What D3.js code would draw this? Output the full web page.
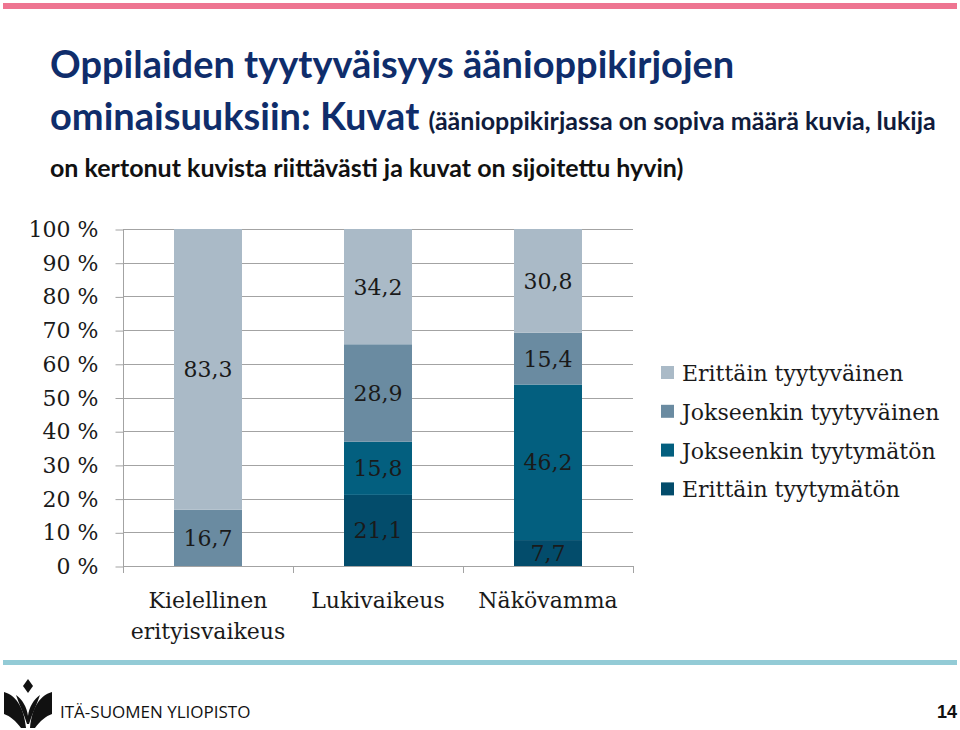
<!DOCTYPE html>
<html>
<head>
<meta charset="utf-8">
<script src="https://cdn.jsdelivr.net/npm/d3@7"></script>
<style>
  html, body { margin: 0; padding: 0; background: #ffffff; }
  svg { display: block; }
</style>
</head>
<body>
<svg id="chart" width="960" height="730"></svg>
<script>
// ---------- DATA ----------
const categories = ["Kielellinen erityisvaikeus", "Lukivaikeus", "Näkövamma"];
const categoryLines = [["Kielellinen", "erityisvaikeus"], ["Lukivaikeus"], ["Näkövamma"]];
const seriesNames = ["Erittäin tyytymätön", "Jokseenkin tyytymätön", "Jokseenkin tyytyväinen", "Erittäin tyytyväinen"];
const erittainTyytymaton   = [0, 21.1, 7.7];
const jokseenkinTyytymaton = [0, 15.8, 46.2];
const jokseenkinTyytyvainen = [16.7, 28.9, 15.4];
const erittainTyytyvainen  = [83.3, 34.2, 30.8];
const yTickValues = [0, 10, 20, 30, 40, 50, 60, 70, 80, 90, 100];
const yTickLabels = ["0 %", "10 %", "20 %", "30 %", "40 %", "50 %", "60 %", "70 %", "80 %", "90 %", "100 %"];
const seriesColors = ["#034c6b", "#035f7f", "#6a8ba1", "#aabac7"];

// ---------- SETUP ----------
const svg = d3.select("#chart");
const serifFont = "'DejaVu Serif', serif";

const seriesValues = [erittainTyytymaton, jokseenkinTyytymaton, jokseenkinTyytyvainen, erittainTyytyvainen];
const table = categories.map((c, i) => {
  const row = { category: c };
  seriesNames.forEach((s, j) => { row[s] = seriesValues[j][i]; });
  return row;
});

const plotLeft = 123, plotRight = 633, plotTop = 229, plotBottom = 566;

const x = d3.scaleBand().domain(categories).range([plotLeft, plotRight])
  .paddingInner(0.6).paddingOuter(0.3);
const y = d3.scaleLinear().domain([0, 100]).range([plotBottom, plotTop]);
const color = d3.scaleOrdinal().domain(seriesNames).range(seriesColors);

// ---------- TOP / BOTTOM DECOR ----------
svg.append("rect").attr("x", 3).attr("y", 3).attr("width", 954).attr("height", 6).attr("fill", "#ee7591");
svg.append("rect").attr("x", 3).attr("y", 660).attr("width", 954).attr("height", 5).attr("fill", "#93cbd6");

// ---------- TITLE ----------
const title = svg.append("g");
title.append("text").attr("x", 50).attr("y", 78)
  .attr("font-family", "Lato, sans-serif").attr("font-weight", 700).attr("font-size", 38)
  .attr("fill", "#0f2d6b").text("Oppilaiden tyytyväisyys äänioppikirjojen");
const t2 = title.append("text").attr("x", 50).attr("y", 130)
  .attr("font-family", "Lato, sans-serif").attr("font-weight", 700).attr("fill", "#0f2d6b");
t2.append("tspan").attr("font-size", 38).text("ominaisuuksiin: Kuvat ");
t2.append("tspan").attr("font-size", 25).attr("fill", "#101c3c").text("(äänioppikirjassa on sopiva määrä kuvia, lukija");
title.append("text").attr("x", 50).attr("y", 177)
  .attr("font-family", "Lato, sans-serif").attr("font-weight", 700).attr("font-size", 25)
  .attr("fill", "#111111").text("on kertonut kuvista riittävästi ja kuvat on sijoitettu hyvin)");

// ---------- GRID ----------
const gridColor = "#a3a3a3";
svg.append("g").selectAll("line").data(yTickValues).join("line")
  .attr("x1", plotLeft).attr("x2", plotRight)
  .attr("y1", d => Math.round(y(d)) + 0.5).attr("y2", d => Math.round(y(d)) + 0.5)
  .attr("stroke", gridColor).attr("stroke-width", 1);

// ---------- BARS ----------
const stack = d3.stack().keys(seriesNames).offset(d3.stackOffsetExpand);
const stacked = stack(table);
const fmt = v => d3.format(".1f")(v).replace(".", ",");

const layers = svg.append("g").selectAll("g").data(stacked).join("g")
  .attr("fill", d => color(d.key));
layers.selectAll("rect").data(d => d).join("rect")
  .attr("x", d => x(d.data.category))
  .attr("width", x.bandwidth())
  .attr("y", d => y(d[1] * 100))
  .attr("height", d => y(d[0] * 100) - y(d[1] * 100));

// labels
const labelG = svg.append("g");
stacked.forEach(layer => {
  layer.forEach(d => {
    const v = d.data[layer.key];
    if (v > 0) {
      labelG.append("text")
        .attr("x", x(d.data.category) + x.bandwidth() / 2)
        .attr("y", y((d[0] + d[1]) / 2 * 100))
        .attr("dy", "0.36em")
        .attr("text-anchor", "middle")
        .attr("font-family", serifFont).attr("font-size", 22)
        .attr("fill", "#1a1a1a")
        .text(fmt(v));
    }
  });
});

// ---------- AXES ----------
const yAxis = d3.axisLeft(y).tickValues(yTickValues)
  .tickFormat((d, i) => yTickLabels[i]).tickSize(8).tickPadding(17);
const yG = svg.append("g").attr("transform", `translate(${plotLeft + 0.5},0.5)`).call(yAxis);
yG.select(".domain").attr("stroke", gridColor).attr("d", `M0,${plotTop}V${plotBottom}`);
yG.selectAll(".tick line").attr("stroke", gridColor);
yG.selectAll(".tick text").attr("font-family", serifFont).attr("font-size", 22).attr("fill", "#1a1a1a");
yG.attr("font-family", null).attr("font-size", null);

// x axis baseline & boundary ticks
const xG = svg.append("g");
xG.append("line").attr("x1", plotLeft).attr("x2", plotRight)
  .attr("y1", plotBottom + 0.5).attr("y2", plotBottom + 0.5).attr("stroke", gridColor);
const boundaries = d3.range(categories.length + 1).map(i => plotLeft + i * x.step());
xG.selectAll("line.b").data(boundaries).join("line").attr("class", "b")
  .attr("x1", d => Math.round(d) + 0.5).attr("x2", d => Math.round(d) + 0.5)
  .attr("y1", plotBottom).attr("y2", plotBottom + 7).attr("stroke", gridColor);

// category labels
categories.forEach((c, i) => {
  const t = xG.append("text")
    .attr("x", x(c) + x.bandwidth() / 2).attr("y", 608)
    .attr("text-anchor", "middle")
    .attr("font-family", serifFont).attr("font-size", 22).attr("fill", "#1a1a1a");
  categoryLines[i].forEach((line, k) => {
    t.append("tspan").attr("x", x(c) + x.bandwidth() / 2).attr("dy", k === 0 ? 0 : 31).text(line);
  });
});

// ---------- LEGEND ----------
const legendItems = seriesNames.slice().reverse();
const legend = svg.append("g");
legendItems.forEach((s, i) => {
  const cy = 373 + i * 38.8;
  legend.append("rect").attr("x", 661).attr("y", cy - 7).attr("width", 13).attr("height", 13).attr("fill", color(s));
  legend.append("text").attr("x", 682).attr("y", cy).attr("dy", "0.36em")
    .attr("font-family", serifFont).attr("font-size", 22).attr("fill", "#1a1a1a").text(s);
});

// ---------- FOOTER ----------
const logo = svg.append("g").attr("fill", "#111111");
logo.append("path").attr("d", "M28,679 L33,686 L28,693 L23,686 Z");
logo.append("path").attr("d", "M27,724 C24,714 19,704 16,695 C22,699 27,707 28,716 C29,707 34,699 40,695 C37,704 32,714 29,724 Z");
logo.append("path").attr("d", "M4,692 C15,695 24,706 26,728 L21,728 C16,721 10,716 4,714 Z");
logo.append("path").attr("d", "M52,692 C41,695 32,706 30,728 L35,728 C40,721 46,716 52,714 Z");
svg.append("text").attr("x", 60).attr("y", 718)
  .attr("font-family", "'Open Sans', sans-serif").attr("font-size", 17).attr("fill", "#111111")
  .text("ITÄ-SUOMEN YLIOPISTO");
svg.append("text").attr("x", 957).attr("y", 718).attr("text-anchor", "end")
  .attr("font-family", "'Liberation Sans', Arial, sans-serif").attr("font-weight", 700).attr("font-size", 18)
  .attr("fill", "#111111").text("14");
</script>
</body>
</html>
